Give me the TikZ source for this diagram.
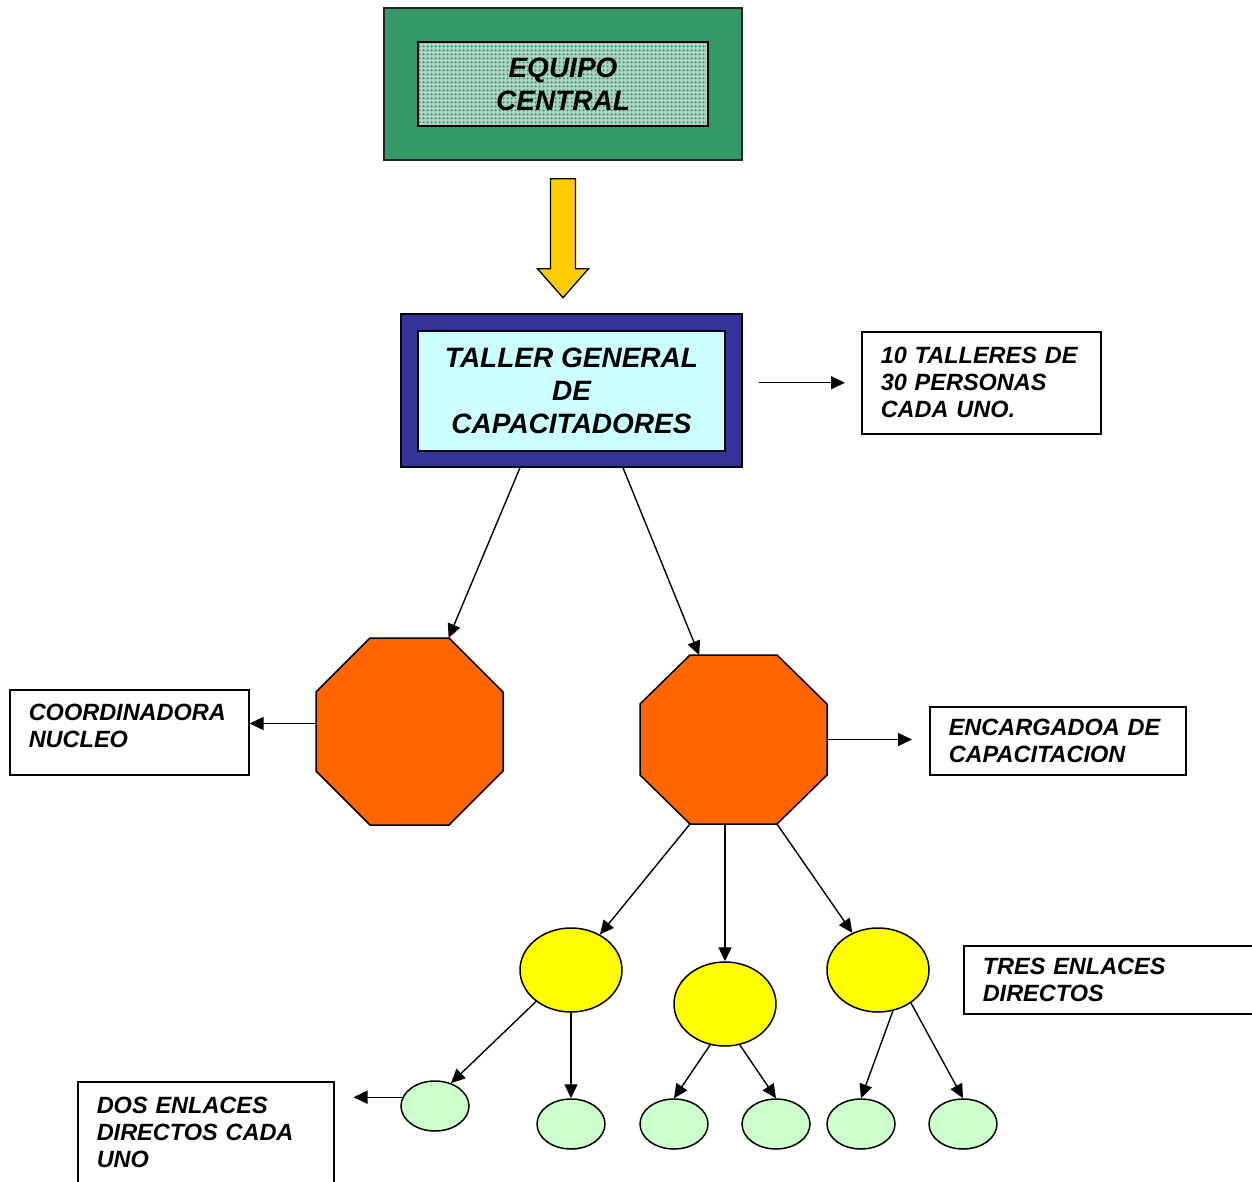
\documentclass[tikz,border=0pt]{standalone}
\usepackage{fontspec}
\setmainfont{Liberation Sans}
\usetikzlibrary{arrows.meta,calc,patterns.meta,shapes.geometric}
\definecolor{seagreen}{HTML}{339966}
\definecolor{navyb}{HTML}{333399}
\definecolor{lcyan}{HTML}{CCFFFF}
\definecolor{octorange}{HTML}{FF6600}
\definecolor{arrowgold}{HTML}{FFCC00}
\definecolor{ylw}{HTML}{FFFF00}
\definecolor{palegreen}{HTML}{CCFFCC}
\newcommand\octpath[3]{%
  \draw[octofill] ([xshift=#2]#1.north west) -- ([xshift=-#2]#1.north east) -- ([yshift=-#3]#1.north east) -- ([yshift=#3]#1.south east) -- ([xshift=-#2]#1.south east) -- ([xshift=#2]#1.south west) -- ([yshift=#3]#1.south west) -- ([yshift=-#3]#1.north west) -- cycle;}
\begin{document}
\begin{tikzpicture}[x=1pt,y=-1pt,
  txt/.style={font=\fontsize{23.5}{27}\selectfont\bfseries\itshape},
  big/.style={font=\fontsize{28}{33}\selectfont\bfseries\itshape, align=center},
  textbox/.style={txt, draw, line width=1.5pt, fill=white, align=left, inner xsep=19pt, inner ysep=0pt, anchor=north west},
  conn/.style={line width=1.4pt, -{Triangle[length=14pt,width=13pt]}},
  octo/.style={draw=none, inner sep=0pt, outer sep=0pt},
  octofill/.style={draw, line width=1.5pt, fill=octorange},
  ell/.style={ellipse, draw, line width=1.5pt, inner sep=0pt},
  yell/.style={ell, fill=ylw, minimum width=102pt, minimum height=84pt},
  gell/.style={ell, fill=palegreen, minimum width=68pt, minimum height=50pt},
  frame/.style={draw, line width=1.5pt, inner sep=0pt}]
\useasboundingbox (0,0) rectangle (1252,1182);
\clip (0,0) rectangle (1252,1182);

% top box
\node[frame, draw=black!85, fill=seagreen, minimum width=358pt, minimum height=152pt] (EQ) at (563,84) {};
\node[frame, preaction={fill=white!60!seagreen}, pattern={Dots[radius=1.5pt,distance=4pt]}, pattern color=seagreen, minimum width=290pt, minimum height=84pt, big] (EQin) at (563,84) {EQUIPO\\CENTRAL};

% block arrow
\draw[line width=1.3pt, fill=arrowgold] ([xshift=-12.5,yshift=-18]EQ.south) -- ++(25,0) -- ++(0,90) -- ++(13,0) -- ++(-25.5,29) -- ++(-25.5,-29) -- ++(13,0) -- cycle;

% taller box
\node[frame, fill=navyb, minimum width=341pt, minimum height=153pt] (T) at (571.5,390.5) {};
\node[frame, fill=lcyan, minimum width=307pt, minimum height=120pt, big] (Tin) at (571.5,391) {TALLER GENERAL\\DE\\CAPACITADORES};

% text boxes
\node[textbox, text width=201pt, minimum height=102pt] (TEN) at (861,331) {10 TALLERES DE\\30 PERSONAS\\CADA UNO.};
\node[textbox, text width=201pt, minimum height=85pt, text depth=40pt] (CO) at (9,689) {COORDINADORA\\NUCLEO};
\node[textbox, text width=218pt, minimum height=68pt] (ENC) at (929,706) {ENCARGADOA DE\\CAPACITACION};
\node[textbox, text width=262pt, minimum height=68pt] (TRES) at (963,945) {TRES ENLACES\\DIRECTOS};
\node[textbox, text width=218pt, minimum height=102pt] (DOS) at (77,1081) {DOS ENLACES\\DIRECTOS CADA\\UNO};

% octagons
\node[octo, minimum width=187pt, minimum height=187pt] (O1) at (409.5,731.5) {};
\node[octo, minimum width=187pt, minimum height=169pt] (O2) at (733.5,739.5) {};
\octpath{O1}{54}{54}
\octpath{O2}{50}{49}

% ellipses
\node[yell] (E1) at (571,970) {};
\node[yell] (E2) at (725,1004) {};
\node[yell] (E3) at (878,970) {};
\node[gell] (G1) at (435,1106) {};
\node[gell] (G2) at (571,1124) {};
\node[gell] (G3) at (674,1124) {};
\node[gell] (G4) at (776,1124) {};
\node[gell] (G5) at (861,1124) {};
\node[gell] (G6) at (963,1124) {};

% connectors
\draw[conn, shorten <=16pt, shorten >=16pt] (T.east |- TEN.west) -- (TEN.west);
\draw[conn] ([xshift=-51.5]T.south) -- (O1);
\draw[conn] ([xshift=51.5]T.south) -- (O2);
\draw[conn] ([yshift=8]O1.west) -- ([yshift=8]O1.west -| CO.east);
\draw[conn, shorten >=17pt] (O2.east) -- (O2.east -| ENC.west);
\draw[conn] ([xshift=50]O2.south west) -- (E1);
\draw[conn] (O2.south -| E2.north) -- (E2.north);
\draw[conn] ([xshift=-50]O2.south east) -- (E3);
\draw[conn] (E1.222) -- (G1.55);
\draw[conn] (E1.south) -- (G2.north);
\draw[conn] (E2.-110) -- (G3.north);
\draw[conn] (E2.-70) -- (G4.north);
\draw[conn] (E3.-70) -- (G5.north);
\draw[conn] (E3.-45) -- (G6.north);
\draw[conn, shorten >=19pt] (G1.165) -- (G1.165 -| DOS.east);
\end{tikzpicture}
\end{document}
